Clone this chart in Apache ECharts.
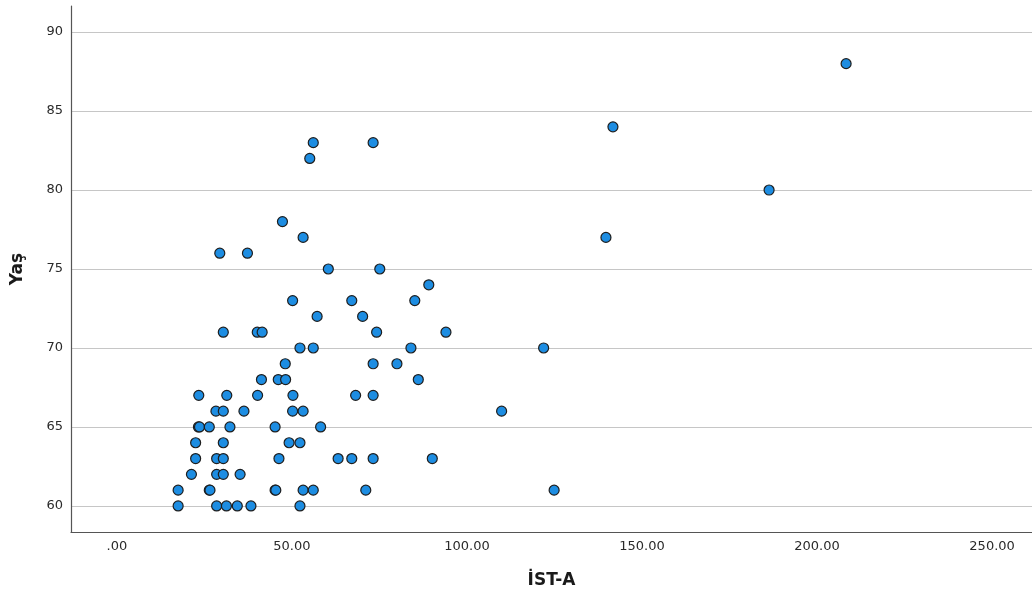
<!DOCTYPE html>
<html>
<head>
<meta charset="utf-8">
<title>Yaş – İST-A</title>
<script src="https://cdn.jsdelivr.net/npm/echarts@6/dist/echarts.min.js"></script>
<style>
  html, body { margin: 0; padding: 0; background: #ffffff; }
  #chart { width: 1032px; height: 599px; }
</style>
</head>
<body>
<div id="chart"></div>
<script>
// İST-A measurements and ages, one entry per subject
const istA = [
  17.5, 28.5, 31.3, 34.4, 38.3, 52.3,
  17.5, 26.4, 26.6, 45.2, 45.4, 53.2, 56.1, 71.1, 124.9,
  21.3, 28.5, 30.4, 35.2,
  22.5, 28.5, 30.4, 46.3, 63.2, 67.1, 73.2, 90.1,
  22.5, 30.4, 49.2, 52.3,
  23.3, 23.6, 26.4, 32.3, 45.2, 58.2,
  28.3, 30.4, 36.3, 50.2, 53.2, 109.9,
  23.4, 31.4, 40.2, 50.3, 68.2, 73.2,
  41.3, 46.1, 48.2, 86.1,
  48.1, 73.2, 80.0,
  52.3, 56.1, 84.0, 121.9,
  30.4, 40.1, 41.5, 74.2, 94.0,
  57.2, 70.2,
  50.2, 67.1, 85.1,
  89.1,
  60.4, 75.1,
  29.4, 37.3,
  53.2, 139.7,
  47.3,
  186.3,
  55.1,
  56.1, 73.2,
  141.7,
  208.3
];
const yas = [
  60, 60, 60, 60, 60, 60,
  61, 61, 61, 61, 61, 61, 61, 61, 61,
  62, 62, 62, 62,
  63, 63, 63, 63, 63, 63, 63, 63,
  64, 64, 64, 64,
  65, 65, 65, 65, 65, 65,
  66, 66, 66, 66, 66, 66,
  67, 67, 67, 67, 67, 67,
  68, 68, 68, 68,
  69, 69, 69,
  70, 70, 70, 70,
  71, 71, 71, 71, 71,
  72, 72,
  73, 73, 73,
  74,
  75, 75,
  76, 76,
  77, 77,
  78,
  80,
  82,
  83, 83,
  84,
  88
];
const xTitle = 'İST-A';
const yTitle = 'Yaş';

const points = istA.map((v, i) => [v, yas[i]]);

const labelFont = { fontFamily: 'DejaVu Sans', fontSize: 13, color: '#2a2a2a' };
const titleFont = { fontFamily: 'DejaVu Sans', fontSize: 17, fontWeight: 'bold', color: '#1a1a1a' };

const chart = echarts.init(document.getElementById('chart'), null, { renderer: 'canvas' });
chart.setOption({
  animation: false,
  backgroundColor: '#ffffff',
  grid: { left: 71, right: 0, top: 6, bottom: 67, containLabel: false },
  xAxis: {
    type: 'value',
    min: -13.1,
    max: 261.4,
    minInterval: 50,
    maxInterval: 50,
    splitNumber: 5,
    name: xTitle,
    nameLocation: 'middle',
    nameGap: 40,
    nameTextStyle: titleFont,
    axisLine: { show: true, onZero: false, lineStyle: { color: '#555555', width: 1.2 } },
    axisTick: { show: false },
    splitLine: { show: false },
    axisLabel: Object.assign({
      margin: 8,
      showMinLabel: false,
      showMaxLabel: false,
      formatter: v => (v === 0 ? '.00' : v.toFixed(2))
    }, labelFont)
  },
  yAxis: {
    type: 'value',
    min: 58.35,
    max: 91.65,
    minInterval: 5,
    maxInterval: 5,
    splitNumber: 7,
    name: yTitle,
    nameLocation: 'middle',
    nameGap: 45,
    nameRotate: 90,
    nameTextStyle: titleFont,
    axisLine: { show: true, onZero: false, lineStyle: { color: '#555555', width: 1.2 } },
    axisTick: { show: false },
    splitLine: { show: true, showMinLine: false, showMaxLine: false, lineStyle: { color: '#c6c6c6', width: 1.2 } },
    axisLabel: Object.assign({
      margin: 8,
      showMinLabel: false,
      showMaxLabel: false
    }, labelFont)
  },
  series: [{
    type: 'scatter',
    data: points,
    symbol: 'circle',
    symbolSize: 10,
    itemStyle: { color: '#1d8de2', borderColor: '#1e1e1e', borderWidth: 1.2, opacity: 1 }
  }]
});
</script>
</body>
</html>
